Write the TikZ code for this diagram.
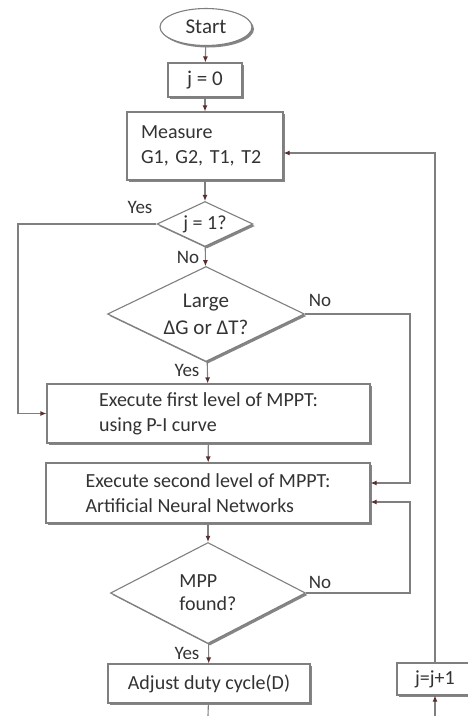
\documentclass[tikz,border=0pt]{standalone}
\usepackage{fontspec}
\setmainfont{Carlito}
\usetikzlibrary{shapes.geometric,arrows.meta,shadows}
\definecolor{edge}{HTML}{7F7F7F}
\definecolor{tipc}{HTML}{5A2E2E}
\definecolor{shad}{HTML}{858585}
\definecolor{txt}{HTML}{333333}
\tikzset{
  base/.style={draw=edge, line width=1.1pt, fill=white, font=\fontsize{20}{25}\selectfont, text=txt,
    drop shadow={shadow xshift=2pt, shadow yshift=-2pt, fill=shad, opacity=1}},
  procbox/.style={base, rectangle, inner sep=0pt},
  decbox/.style={base, diamond, inner sep=0pt, aspect=2},
  termbox/.style={base, ellipse, inner sep=0pt},
  arr/.style={draw=edge, line width=1.1pt, -{Latex[length=6pt,width=5pt,color=tipc]}},
  plain/.style={draw=edge, line width=1.1pt},
  lbl/.style={font=\fontsize{19}{22}\selectfont, text=txt, inner sep=0pt}
}
\begin{document}
\begin{tikzpicture}[x=1pt,y=-1pt]
\useasboundingbox (0,0) rectangle (467,716);
\node[termbox, minimum width=92pt, minimum height=37pt, font=\fontsize{21}{25}\selectfont] (start) at (206,27) {Start};
\node[procbox, minimum width=74pt, minimum height=34pt, font=\fontsize{21}{25}\selectfont] (j0) at (205,80) {j = 0};
\node[procbox, minimum width=156pt, minimum height=68pt, text width=128pt, align=left] (measure) at (205,146) {Measure\\G1, G2, T1, T2};
\node[decbox, minimum width=96pt, minimum height=45pt] (j1) at (205,224) {j = 1?};
\node[decbox, minimum width=197pt, minimum height=95pt, align=center, font=\fontsize{21}{27}\selectfont] (large) at (206,314) {Large\\ΔG or ΔT?};
\node[procbox, minimum width=323pt, minimum height=59pt, align=left] (exec1) at (208.5,413.5) {Execute first level of MPPT:\\using P-I curve};
\node[procbox, minimum width=324pt, minimum height=60pt, align=left] (exec2) at (208,493) {Execute second level of MPPT:\\Artificial Neural Networks};
\node[decbox, minimum width=195pt, minimum height=101pt, align=left, font=\fontsize{20}{23}\selectfont] (mpp) at (208,593) {MPP\\found?};
\node[procbox, minimum width=202pt, minimum height=39pt] (adjust) at (209,683.5) {Adjust duty cycle(D)};
\node[procbox, minimum width=76pt, minimum height=32pt] (jplus) at (435,679) {j=j+1};
\coordinate (bottomL) at (208,716);
\coordinate (bottomR) at (435,716);
\coordinate (leftC) at (18,224);
\coordinate (r1) at (410,314);
\coordinate (r2) at (410,593);
\coordinate (r3) at (435,153);

\draw[arr] (start) -- (j0);
\draw[arr] (j0) -- (measure);
\draw[arr] (measure) -- (j1);
\draw[arr] (j1) -- (large);
\draw[arr] (large) -- (exec1);
\draw[arr] (exec1) -- (exec2);
\draw[arr] (exec2) -- (mpp);
\draw[arr] (mpp) -- (adjust);
\draw[plain] (adjust) -- (bottomL);
\draw[arr] (j1.west) -- (leftC) |- (exec1.west);
\draw[arr] (large.east) -- (r1) |- ([yshift=10pt]exec2.east);
\draw[arr] (mpp.east) -- (r2) |- ([yshift=-9pt]exec2.east);
\draw[arr] (bottomR) -- (jplus);
\draw[arr] (jplus.north) -- (r3) -- (measure.east |- r3);

\node[lbl] (l1) at (140,207) {Yes};
\node[lbl] (l2) at (188,257) {No};
\node[lbl] (l3) at (320,300) {No};
\node[lbl] (l4) at (187,370) {Yes};
\node[lbl] (l5) at (320,582) {No};
\node[lbl] (l6) at (187,653) {Yes};
\end{tikzpicture}
\end{document}
